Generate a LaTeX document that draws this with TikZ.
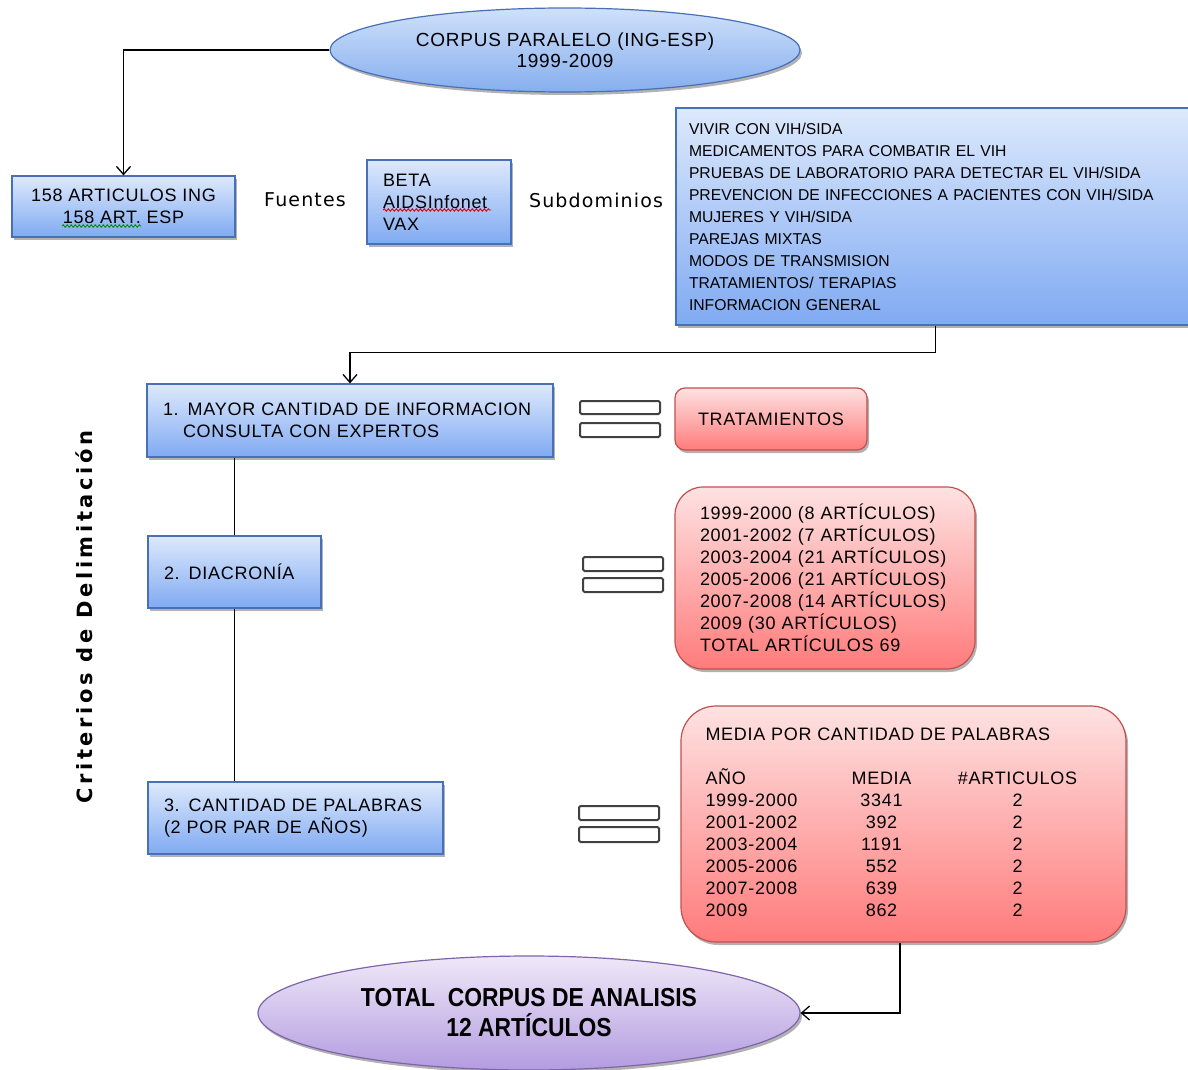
\documentclass[tikz,border=0pt]{standalone}
\usepackage{fontspec}
\usepackage{array}
\setmainfont{Liberation Sans}[LetterSpace=4]
\newfontfamily\vertfont[LetterSpace=17]{DejaVu Sans}
\newfontfamily\narrowfont[FakeStretch=0.88]{Liberation Sans}
\newfontfamily\subfont{Liberation Sans}
\newfontfamily\labfont[LetterSpace=6]{DejaVu Sans}
\usetikzlibrary{shapes.geometric,arrows.meta,shadows,decorations.pathmorphing}
\definecolor{bluetop}{HTML}{DDE9FC}
\definecolor{bluebot}{HTML}{80AAF2}
\definecolor{blueline}{HTML}{4870B8}
\definecolor{elltop}{HTML}{CFE1FA}
\definecolor{ellbot}{HTML}{86AEEE}
\definecolor{redtop}{HTML}{FEE2E2}
\definecolor{redbot}{HTML}{FF7B7B}
\definecolor{redline}{HTML}{C0504D}
\definecolor{purtop}{HTML}{EFE8F8}
\definecolor{purbot}{HTML}{B39CE0}
\definecolor{purline}{HTML}{7E64A8}
\definecolor{eqline}{HTML}{404040}
\tikzset{
  shadowed/.style={drop shadow={shadow xshift=2pt, shadow yshift=-3pt, opacity=0.3, fill=black}},
  bluebox/.style={rectangle, draw=blueline, line width=1.2pt, top color=bluetop, bottom color=bluebot, shadowed, inner sep=0pt},
  redbox/.style={rectangle, draw=redline, line width=1.2pt, top color=redtop, bottom color=redbot, shadowed, inner sep=0pt},
  blueell/.style={ellipse, draw=blueline, line width=1.2pt, top color=elltop, bottom color=ellbot, shadowed, inner sep=0pt, align=center},
  purell/.style={ellipse, draw=purline, line width=1.2pt, top color=purtop, bottom color=purbot, shadowed, inner sep=0pt, align=center},
  arr/.style={draw=black, line width=1.3pt, -{Straight Barb[length=8pt,width=14pt,line width=1.3pt]}},
  plain/.style={draw=black, line width=1.3pt},
  eqbar/.style={draw=eqline, line width=2pt, fill=white, rounded corners=1.5pt},
  wavyg/.style={draw=green!55!black, line width=0.9pt, decorate, decoration={snake, amplitude=1.2pt, segment length=4pt}},
  wavyr/.style={draw=red!85!black, line width=0.9pt, decorate, decoration={snake, amplitude=1.2pt, segment length=4pt}},
  lab/.style={font=\labfont\fontsize{19}{22}\selectfont}
}
\begin{document}
\begin{tikzpicture}[x=1pt,y=-1pt, font=\fontsize{18}{22}\selectfont]
\useasboundingbox (0,0) rectangle (1188,1070);

% top ellipse
\node[blueell, minimum width=470pt, minimum height=84pt, font=\fontsize{19}{21}\selectfont] (corpus) at (565,50)
  {CORPUS PARALELO (ING-ESP)\\1999-2009};

% first row
\node[bluebox, minimum width=223pt, minimum height=61pt, align=center] (art) at (123.5,206.5)
  {158 ARTICULOS ING\\158 ART. ESP};
\node[lab] (fuentes) at (305,200) {Fuentes};
\node[bluebox, minimum width=144pt, minimum height=84pt, text width=112pt, align=left, inner xsep=16pt] (fuent) at (439,202)
  {BETA\\AIDSInfonet\\VAX};
\node[lab] (subd) at (596,200) {Subdominios};
\node[bluebox, minimum width=519pt, minimum height=217pt, text width=493pt, align=left, inner xsep=13pt,
      font=\subfont\fontsize{15.7}{22}\selectfont] (sub) at (935.5,216.5)
  {VIVIR CON VIH/SIDA\\
   MEDICAMENTOS PARA COMBATIR EL VIH\\
   PRUEBAS DE LABORATORIO PARA DETECTAR EL VIH/SIDA\\
   PREVENCION DE INFECCIONES A PACIENTES CON VIH/SIDA\\
   MUJERES Y VIH/SIDA\\
   PAREJAS MIXTAS\\
   MODOS DE TRANSMISION\\
   TRATAMIENTOS/ TERAPIAS\\
   INFORMACION GENERAL};

% spell-check underlines
\draw[wavyg] (62,226) -- (141,226);
\draw[wavyr] (383,210) -- (491,210);

% criteria
\node[bluebox, minimum width=406pt, minimum height=73pt, text width=374pt, align=left, inner xsep=16pt] (c1) at (350,420.5)
  {1. MAYOR CANTIDAD DE INFORMACION\\\hspace*{20pt}CONSULTA CON EXPERTOS};
\node[bluebox, minimum width=173pt, minimum height=72pt, text width=141pt, align=left, inner xsep=16pt] (c2) at (234.5,572)
  {2. DIACRONÍA};
\node[bluebox, minimum width=295pt, minimum height=72pt, text width=263pt, align=left, inner xsep=16pt] (c3) at (295.5,818)
  {3. CANTIDAD DE PALABRAS\\(2 POR PAR DE AÑOS)};

\node[rotate=90, font=\vertfont\bfseries\fontsize{21}{24}\selectfont] (crit) at (84,617) {Criterios de Delimitación};

% equals signs
\draw[eqbar] (580,401) rectangle (660,414);
\draw[eqbar] (580,423) rectangle (660,437);
\draw[eqbar] (583,557) rectangle (663,571);
\draw[eqbar] (583,578) rectangle (663,592);
\draw[eqbar] (579,806) rectangle (659,820);
\draw[eqbar] (579,827) rectangle (659,842);

% red boxes
\node[redbox, rounded corners=10pt, minimum width=192pt, minimum height=62pt] (trat) at (771,419) {TRATAMIENTOS};
\node[redbox, rounded corners=28pt, minimum width=300pt, minimum height=182pt, text width=250pt, align=left, inner xsep=25pt] (years) at (825,578)
  {1999-2000 (8 ARTÍCULOS)\\
   2001-2002 (7 ARTÍCULOS)\\
   2003-2004 (21 ARTÍCULOS)\\
   2005-2006 (21 ARTÍCULOS)\\
   2007-2008 (14 ARTÍCULOS)\\
   2009 (30 ARTÍCULOS)\\
   TOTAL ARTÍCULOS 69};
\node[redbox, rounded corners=35pt, minimum width=445pt, minimum height=236pt] (media) at (903.5,824)
  {\renewcommand\arraystretch{1}%
   \begin{tabular}{@{\hspace{4pt}}>{\raggedright\arraybackslash}p{128pt}@{}>{\centering\arraybackslash}p{96pt}@{}>{\centering\arraybackslash}p{176pt}@{}}
   \multicolumn{3}{@{\hspace{4pt}}l@{}}{MEDIA POR CANTIDAD DE PALABRAS}\\
   \multicolumn{3}{@{}l@{}}{}\\
   AÑO & MEDIA & \#ARTICULOS\\
   1999-2000 & 3341 & 2\\
   2001-2002 & 392 & 2\\
   2003-2004 & 1191 & 2\\
   2005-2006 & 552 & 2\\
   2007-2008 & 639 & 2\\
   2009 & 862 & 2\\
   \end{tabular}};

% bottom ellipse
\node[purell, minimum width=542pt, minimum height=114pt, font=\narrowfont\bfseries\fontsize{26}{30}\selectfont] (total) at (529,1013)
  {TOTAL\ \ CORPUS DE ANALISIS\\12 ARTÍCULOS};

% connectors
\draw[arr] (corpus.west) -| (art.north);
\draw[arr] (sub.south) -- ++(0,27) -| (c1.north);
\draw[plain] (c2.north |- c1.south) -- (c2.north);
\draw[plain] (c2.south) -- (c2.south |- c3.north);
\draw[arr] ([xshift=-3.5pt]media.south) |- (total.east);
\end{tikzpicture}
\end{document}
